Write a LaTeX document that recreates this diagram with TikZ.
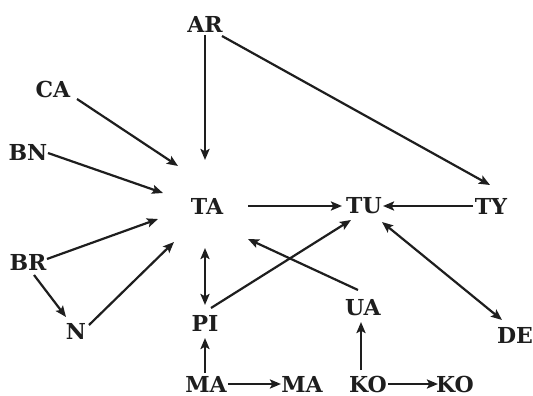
\documentclass[tikz,border=0pt]{standalone}
\usepackage{fontspec}
\setmainfont{DejaVu Serif}
\usetikzlibrary{arrows.meta}
\definecolor{ink}{HTML}{1E1E1E}
\tikzset{
  lbl/.style={font=\bfseries\fontsize{22}{25}\selectfont, text=ink, inner sep=2pt},
  tip/.tip={Stealth[length=11pt,width=9pt,inset=2.2pt]},
  link/.style={draw=ink, line width=2.2pt, -tip},
  link2/.style={draw=ink, line width=2.2pt, tip-tip}
}
\begin{document}
\begin{tikzpicture}[x=1pt,y=1pt]
\useasboundingbox[fill=white] (0,0) rectangle (533,-396);
% places
\node[lbl] (AR)  at (205,-24)  {AR};
\node[lbl] (CA)  at (53,-89)   {CA};
\node[lbl] (BN)  at (28,-152)  {BN};
\node[lbl] (TA)  at (207,-206) {TA};
\node[lbl] (BR)  at (28,-262)  {BR};
\node[lbl] (N)   at (76,-331)  {N};
\node[lbl] (PI)  at (205,-323) {PI};
\node[lbl] (MAa) at (206,-384) {MA};
\node[lbl] (TU)  at (364,-206) {TU};
\node[lbl] (TY)  at (491,-206) {TY};
\node[lbl] (UA)  at (363,-308) {UA};
\node[lbl] (DE)  at (515,-335) {DE};
\node[lbl] (MAb) at (302,-384) {MA};
\node[lbl] (KOa) at (368,-384) {KO};
\node[lbl] (KOb) at (455,-384) {KO};
% connections
\draw[link] ([shift={(0,-11)}]AR.center)   -- ([shift={(-2,46)}]TA.center);
\draw[link] ([shift={(17,-12)}]AR.center)  -- ([shift={(-1,21)}]TY.center);
\draw[link] ([shift={(24,-10)}]CA.center)  -- ([shift={(-29,40)}]TA.center);
\draw[link] ([shift={(20,-1)}]BN.center)   -- ([shift={(-44,13)}]TA.center);
\draw[link] ([shift={(19,3)}]BR.center)    -- ([shift={(-49,-13)}]TA.center);
\draw[link] ([shift={(6,-13)}]BR.center)   -- ([shift={(-10,14)}]N.center);
\draw[link] ([shift={(13,6)}]N.center)     -- ([shift={(-33,-36)}]TA.center);
\draw[link2] ([shift={(-2,-42)}]TA.center) -- ([shift={(0,18)}]PI.center);
\draw[link] ([shift={(6,15)}]PI.center)    -- ([shift={(-13,-14)}]TU.center);
\draw[link] ([shift={(-5,18)}]UA.center)   -- ([shift={(41,-33)}]TA.center);
\draw[link] ([shift={(41,0)}]TA.center)    -- ([shift={(-22,0)}]TU.center);
\draw[link] ([shift={(-18,0)}]TY.center)   -- ([shift={(19,0)}]TU.center);
\draw[link2] ([shift={(18,-16)}]TU.center) -- ([shift={(-13,15)}]DE.center);
\draw[link] ([shift={(-1,11)}]MAa.center)  -- ([shift={(0,-15)}]PI.center);
\draw[link] ([shift={(22,0)}]MAa.center)   -- ([shift={(-21,0)}]MAb.center);
\draw[link] ([shift={(-7,14)}]KOa.center)  -- ([shift={(-2,-14)}]UA.center);
\draw[link] ([shift={(20,0)}]KOa.center)   -- ([shift={(-17,0)}]KOb.center);
\end{tikzpicture}
\end{document}
